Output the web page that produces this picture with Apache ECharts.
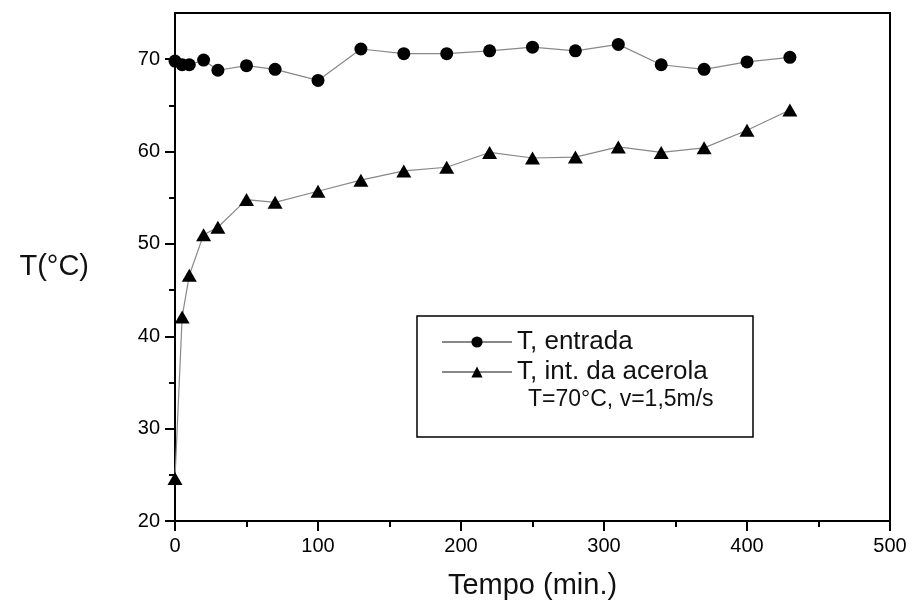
<!DOCTYPE html>
<html>
<head>
<meta charset="utf-8">
<script src="https://cdn.jsdelivr.net/npm/echarts@6/dist/echarts.min.js"></script>
<style>
  html, body { margin: 0; padding: 0; background: #fff; }
  #chart { width: 914px; height: 607px; }
</style>
</head>
<body>
<div id="chart"></div>
<script>
// Drying run: air inlet temperature and temperature inside the acerola fruit
const tempo = [0, 5, 10, 20, 30, 50, 70, 100, 130, 160, 190, 220, 250, 280, 310, 340, 370, 400, 430];
const tEntrada = [69.8, 69.4, 69.4, 69.9, 68.8, 69.3, 68.9, 67.7, 71.1, 70.6, 70.6, 70.9, 71.3, 70.9, 71.6, 69.4, 68.9, 69.7, 70.2];
const tInterior = [24.6, 42.1, 46.6, 51.0, 51.8, 54.8, 54.5, 55.7, 56.9, 57.9, 58.3, 59.9, 59.3, 59.4, 60.5, 59.9, 60.4, 62.3, 64.5];
const xTicks = [0, 100, 200, 300, 400, 500];
const yTicks = [20, 30, 40, 50, 60, 70];
const nomeSerie = ['T, entrada', 'T, int. da acerola'];
const condicoes = 'T=70°C, v=1,5m/s';

const FONT = '"Liberation Sans", Arial, sans-serif';
const pares = (xs, ys) => xs.map((x, i) => [x, ys[i]]);

const chart = echarts.init(document.getElementById('chart'), null, { renderer: 'canvas' });

const axisCommon = {
  axisLine: { show: true, lineStyle: { color: '#000', width: 2 } },
  axisTick: { show: true, inside: false, length: 10, lineStyle: { color: '#000', width: 2 } },
  minorTick: { show: true, splitNumber: 2, length: 6, lineStyle: { color: '#000', width: 2 } },
  splitLine: { show: false },
  axisLabel: { color: '#000', fontFamily: FONT, fontSize: 20 },
  nameTextStyle: { color: '#111', fontFamily: FONT, fontSize: 29 }
};

chart.setOption({
  animation: false,
  backgroundColor: '#fff',
  grid: {
    left: 175, right: 24, top: 13, bottom: 86,
    show: true, borderColor: '#000', borderWidth: 2
  },
  xAxis: Object.assign({}, axisCommon, {
    type: 'value',
    min: xTicks[0], max: xTicks[xTicks.length - 1], interval: 100,
    name: 'Tempo (min.)', nameLocation: 'middle', nameGap: 50,
    axisLabel: Object.assign({}, axisCommon.axisLabel, { margin: 15 })
  }),
  yAxis: Object.assign({}, axisCommon, {
    type: 'value',
    min: yTicks[0], max: 75, interval: 10,
    name: 'T(°C)', nameLocation: 'middle', nameRotate: 0, nameGap: 86,
    axisTick: Object.assign({}, axisCommon.axisTick, { customValues: yTicks }),
    axisLabel: Object.assign({}, axisCommon.axisLabel, {
      margin: 15,
      customValues: yTicks,
      formatter: v => (yTicks.indexOf(v) >= 0 ? String(v) : '')
    })
  }),
  legend: {
    orient: 'vertical',
    left: 441, top: 327,
    padding: 0,
    itemGap: 0,
    itemWidth: 70,
    itemHeight: 14,
    textStyle: { color: '#111', fontFamily: FONT, fontSize: 26, lineHeight: 30 },
    data: nomeSerie
  },
  graphic: [
    {
      type: 'rect',
      shape: { x: 417, y: 316, width: 336, height: 121 },
      style: { fill: 'none', stroke: '#000', lineWidth: 1.5 },
      z: 10
    },
    {
      type: 'text',
      x: 528, y: 400,
      style: {
        text: condicoes, fill: '#111', font: '23px ' + FONT,
        textVerticalAlign: 'middle', verticalAlign: 'middle'
      },
      z: 10
    }
  ],
  series: [
    {
      name: nomeSerie[0],
      type: 'line',
      data: pares(tempo, tEntrada),
      symbol: 'circle',
      symbolSize: 13,
      itemStyle: { color: '#000' },
      lineStyle: { color: '#888', width: 1.2 },
      z: 3
    },
    {
      name: nomeSerie[1],
      type: 'line',
      data: pares(tempo, tInterior),
      symbol: 'triangle',
      symbolSize: [15, 13],
      itemStyle: { color: '#000' },
      lineStyle: { color: '#888', width: 1.2 },
      z: 3
    }
  ]
});
</script>
</body>
</html>
